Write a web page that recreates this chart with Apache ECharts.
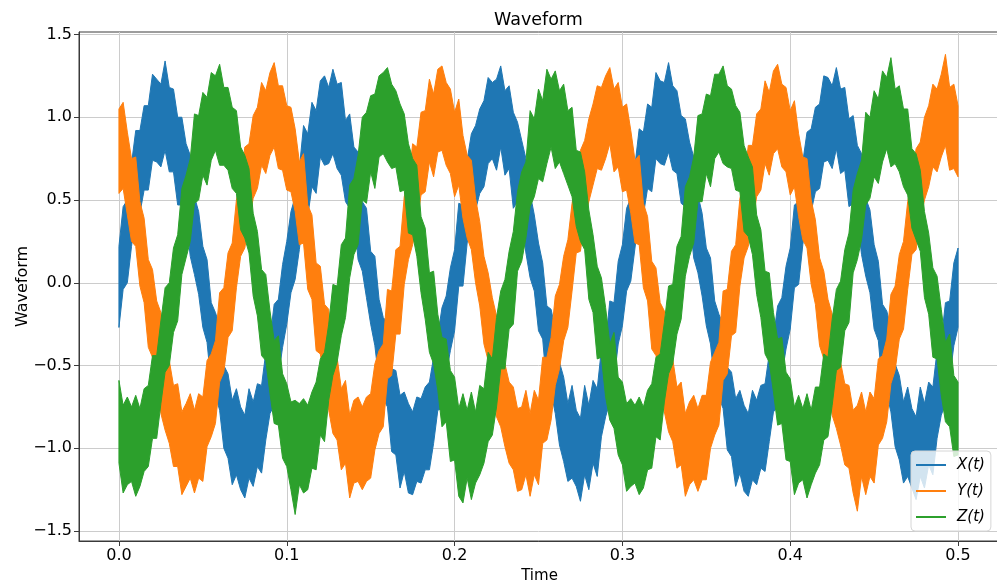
<!DOCTYPE html>
<html>
<head>
<meta charset="utf-8">
<script src="https://cdn.jsdelivr.net/npm/echarts@6/dist/echarts.min.js"></script>
<style>html,body{margin:0;padding:0;background:#fff;}#chart{width:997px;height:587px;}</style>
</head>
<body>
<div id="chart"></div>
<script>
// Sampling step of the time axis (seconds); samples start at t = 0.
// Each noisy waveform is described by the upper and lower edge of its noise band.
const timeStep = 0.0025;

const xTickValues = [0, 0.1, 0.2, 0.3, 0.4, 0.5];
const yTickValues = [-1.5, -1.0, -0.5, 0.0, 0.5, 1.0, 1.5];
const seriesNames = ['X(t)', 'Y(t)', 'Z(t)'];

const xUpper = [
  .22,.46,.50,.72,.92,.92,1.07,1.07,1.26,1.23,1.20,1.34,1.18,1.17,1.00,1.00,.84,.77,.52,.43,.22,.14,-.12,-.18,-.26,-.50,-.55,-.71,-.64,-.75,-.80,-.64,-.72,-.61,-.62,-.42,-.34,-.13,-.10,.11,
  .25,.43,.52,.69,.95,.90,1.09,1.04,1.22,1.25,1.18,1.29,1.20,1.21,.98,1.02,.82,.79,.49,.45,.19,.16,-.10,-.21,-.24,-.52,-.53,-.68,-.66,-.73,-.78,-.69,-.70,-.63,-.60,-.45,-.32,-.15,-.08,.09,
  .20,.48,.47,.74,.90,.95,1.05,1.10,1.24,1.21,1.23,1.31,1.16,1.19,1.03,.97,.86,.75,.54,.41,.24,.12,-.14,-.16,-.28,-.48,-.57,-.73,-.62,-.77,-.82,-.62,-.74,-.59,-.64,-.40,-.36,-.11,-.12,.13,
  .23,.45,.51,.71,.93,.91,1.08,1.06,1.27,1.22,1.21,1.33,1.19,1.16,1.01,.99,.85,.76,.53,.42,.21,.15,-.11,-.19,-.25,-.51,-.54,-.70,-.65,-.74,-.79,-.65,-.71,-.62,-.61,-.43,-.33,-.14,-.09,.10,
  .21,.47,.49,.73,.91,.93,1.06,1.08,1.25,1.24,1.19,1.30,1.17,1.18,.99,1.01,.83,.78,.51,.44,.23,.13,-.13,-.17,-.27,-.49,-.56,-.72,-.63,-.76,-.81,-.63,-.73,-.60,-.63,-.41,-.35,-.12,-.11,.12,
  .21
];
const xLower = [
  -.27,-.04,0,.22,.41,.42,.56,.56,.74,.73,.70,.80,.67,.67,.47,.47,.39,.16,.05,-.07,-.27,-.36,-.62,-.68,-.77,-1.00,-1.06,-1.22,-1.16,-1.25,-1.30,-1.18,-1.23,-1.11,-1.15,-.95,-.79,-.74,-.57,-.39,
  -.25,-.06,.02,.20,.43,.40,.58,.54,.76,.71,.72,.78,.69,.65,.49,.45,.41,.14,.07,-.09,-.25,-.38,-.60,-.70,-.75,-1.02,-1.04,-1.24,-1.14,-1.27,-1.28,-1.20,-1.21,-1.13,-1.13,-.97,-.77,-.76,-.55,-.41,
  -.29,-.02,-.02,.24,.39,.44,.54,.58,.72,.75,.68,.82,.65,.69,.45,.49,.37,.18,.03,-.05,-.29,-.34,-.64,-.66,-.79,-.98,-1.08,-1.20,-1.18,-1.23,-1.32,-1.16,-1.25,-1.09,-1.17,-.93,-.81,-.72,-.59,-.37,
  -.26,-.05,.01,.21,.42,.41,.57,.55,.75,.72,.71,.79,.68,.66,.48,.46,.40,.15,.06,-.08,-.26,-.37,-.61,-.69,-.76,-1.01,-1.05,-1.23,-1.15,-1.26,-1.29,-1.19,-1.22,-1.12,-1.14,-.96,-.78,-.75,-.56,-.40,
  -.28,-.03,-.01,.23,.40,.43,.55,.57,.73,.74,.69,.81,.66,.68,.46,.48,.38,.17,.04,-.06,-.28,-.35,-.63,-.67,-.78,-.99,-1.07,-1.21,-1.17,-1.24,-1.31,-1.17,-1.24,-1.10,-1.16,-.94,-.80,-.73,-.58,-.38,
  -.27
];

const yUpper = [
  1.05,1.09,.91,.75,.76,.49,.39,.14,.08,-.11,-.18,-.42,-.47,-.62,-.61,-.78,-.73,-.67,-.77,-.67,-.69,-.47,-.43,-.35,-.06,-.03,.18,.24,.50,.61,.82,.84,1.01,1.06,1.21,1.16,1.27,1.33,1.19,1.19,
  1.07,1.06,.93,.73,.78,.47,.41,.12,.10,-.13,-.16,-.44,-.45,-.64,-.59,-.80,-.71,-.69,-.75,-.69,-.67,-.49,-.41,-.37,-.04,-.05,.20,.22,.52,.59,.84,.82,1.03,1.04,1.23,1.14,1.29,1.31,1.21,1.17,
  1.03,1.11,.89,.77,.74,.51,.37,.16,.06,-.09,-.20,-.40,-.49,-.60,-.63,-.76,-.75,-.65,-.79,-.65,-.71,-.45,-.45,-.33,-.08,-.01,.16,.26,.48,.63,.80,.86,.99,1.08,1.19,1.18,1.25,1.30,1.17,1.21,
  1.06,1.08,.92,.74,.77,.48,.40,.13,.09,-.12,-.17,-.43,-.46,-.63,-.60,-.79,-.72,-.68,-.76,-.68,-.68,-.48,-.42,-.36,-.05,-.04,.19,.23,.51,.60,.83,.83,1.02,1.05,1.22,1.15,1.28,1.32,1.20,1.18,
  1.04,1.10,.90,.76,.75,.50,.38,.15,.07,-.10,-.19,-.41,-.48,-.61,-.62,-.77,-.74,-.66,-.78,-.66,-.70,-.46,-.44,-.34,-.07,-.02,.17,.25,.49,.62,.81,.85,1.00,1.07,1.20,1.17,1.26,1.38,1.18,1.20,
  1.07
];
const yLower = [
  .54,.57,.41,.25,.22,-.02,-.12,-.39,-.45,-.56,-.79,-.89,-.97,-1.11,-1.11,-1.28,-1.23,-1.18,-1.27,-1.18,-1.20,-.99,-.93,-.85,-.60,-.54,-.33,-.29,-.03,.16,.21,.37,.51,.57,.71,.66,.77,.82,.69,.68,
  .56,.55,.43,.23,.24,-.04,-.10,-.41,-.43,-.58,-.77,-.91,-.95,-1.13,-1.09,-1.30,-1.21,-1.20,-1.25,-1.20,-1.18,-1.01,-.91,-.87,-.58,-.56,-.31,-.31,-.01,.14,.23,.35,.53,.55,.73,.64,.79,.80,.71,.66,
  .52,.59,.39,.27,.20,0,-.14,-.37,-.47,-.54,-.81,-.87,-.99,-1.09,-1.13,-1.26,-1.25,-1.16,-1.29,-1.16,-1.22,-.97,-.95,-.83,-.62,-.52,-.35,-.27,-.05,.18,.19,.39,.49,.59,.69,.68,.75,.84,.67,.70,
  .55,.56,.42,.24,.23,-.03,-.11,-.40,-.44,-.57,-.78,-.90,-.96,-1.12,-1.10,-1.29,-1.22,-1.19,-1.26,-1.19,-1.19,-1.00,-.92,-.86,-.59,-.55,-.32,-.30,-.02,.15,.22,.36,.52,.56,.72,.65,.78,.81,.70,.67,
  .53,.58,.40,.26,.21,-.01,-.13,-.38,-.46,-.55,-.80,-.88,-.98,-1.10,-1.12,-1.27,-1.38,-1.17,-1.28,-1.17,-1.21,-.98,-.94,-.84,-.61,-.53,-.34,-.28,-.04,.17,.20,.38,.50,.58,.70,.67,.76,.83,.68,.69,
  .64
];

const zUpper = [
  -.59,-.74,-.69,-.75,-.68,-.76,-.64,-.62,-.44,-.44,-.23,-.03,0,.21,.29,.57,.65,.75,1.02,1.01,1.15,1.12,1.27,1.25,1.32,1.18,1.18,1.06,1.04,.82,.77,.69,.42,.31,.08,.05,-.17,-.35,-.32,-.55,
  -.61,-.72,-.71,-.73,-.70,-.74,-.66,-.60,-.46,-.42,-.25,-.01,-.02,.23,.27,.59,.63,.77,1.00,1.03,1.13,1.14,1.25,1.27,1.30,1.20,1.16,1.08,1.02,.84,.75,.71,.40,.33,.06,.07,-.19,-.33,-.34,-.53,
  -.57,-.76,-.67,-.77,-.66,-.78,-.62,-.64,-.42,-.46,-.21,-.05,.02,.19,.31,.55,.67,.73,1.04,.99,1.17,1.10,1.29,1.23,1.28,1.16,1.20,1.04,1.06,.80,.79,.67,.44,.29,.10,.03,-.15,-.37,-.30,-.57,
  -.60,-.73,-.70,-.74,-.69,-.75,-.65,-.61,-.45,-.43,-.24,-.02,-.01,.22,.28,.58,.64,.76,1.01,1.02,1.14,1.13,1.26,1.26,1.31,1.19,1.17,1.07,1.03,.83,.76,.70,.41,.32,.07,.06,-.18,-.34,-.33,-.54,
  -.58,-.75,-.68,-.76,-.67,-.77,-.63,-.63,-.43,-.45,-.22,-.04,.01,.20,.30,.56,.66,.74,1.03,1.00,1.16,1.11,1.28,1.24,1.36,1.17,1.19,1.05,1.05,.81,.78,.68,.43,.30,.09,.04,-.16,-.36,-.31,-.56,
  -.60
];
const zLower = [
  -1.09,-1.27,-1.22,-1.20,-1.29,-1.23,-1.14,-1.11,-.94,-.94,-.73,-.54,-.50,-.30,-.23,.05,.15,.25,.48,.50,.65,.59,.74,.80,.71,.71,.68,.57,.54,.32,.27,.18,-.08,-.20,-.44,-.47,-.67,-.85,-.86,-1.06,
  -1.11,-1.25,-1.40,-1.22,-1.27,-1.25,-1.12,-1.13,-.92,-.96,-.71,-.56,-.48,-.32,-.21,.03,.17,.23,.50,.48,.67,.57,.76,.78,.73,.69,.70,.55,.56,.30,.29,.16,-.06,-.22,-.42,-.49,-.65,-.87,-.84,-1.08,
  -1.07,-1.29,-1.33,-1.18,-1.31,-1.21,-1.16,-1.09,-.96,-.92,-.75,-.52,-.52,-.28,-.25,.07,.13,.27,.46,.52,.63,.61,.72,.82,.69,.73,.66,.59,.52,.34,.25,.20,-.10,-.18,-.46,-.45,-.69,-.83,-.88,-1.04,
  -1.10,-1.26,-1.23,-1.21,-1.28,-1.24,-1.13,-1.12,-.93,-.95,-.72,-.55,-.49,-.31,-.22,.04,.16,.24,.49,.49,.66,.58,.75,.79,.72,.70,.69,.56,.55,.31,.28,.17,-.07,-.21,-.43,-.48,-.66,-.86,-.85,-1.07,
  -1.08,-1.28,-1.21,-1.19,-1.30,-1.22,-1.15,-1.10,-.95,-.93,-.74,-.53,-.51,-.29,-.24,.06,.14,.26,.47,.51,.64,.60,.73,.81,.70,.72,.67,.58,.53,.33,.26,.19,-.09,-.19,-.45,-.46,-.68,-.84,-.87,-1.05,
  -1.04
];

const colors = ['#1f77b4', '#ff7f0e', '#2ca02c'];
const FONT = '"DejaVu Sans", "Liberation Sans", sans-serif';

function fmt(v) { return v.toFixed(1).replace('-', '\u2212'); }

// A noise band drawn through the axes' scales: upper edge forward, lower edge back.
function bandSeries(name, upper, lower, color) {
  return {
    name: name,
    type: 'custom',
    color: color,
    itemStyle: {color: color},
    silent: true,
    clip: true,
    data: [[0, 0]],
    encode: {x: 0, y: 1},
    renderItem: function (params, api) {
      const pts = [];
      for (let i = 0; i < upper.length; i++) pts.push(api.coord([i * timeStep, upper[i]]));
      for (let i = lower.length - 1; i >= 0; i--) pts.push(api.coord([i * timeStep, lower[i]]));
      return {
        type: 'polygon',
        shape: {points: pts},
        style: {fill: color, stroke: color, lineWidth: 1, lineJoin: 'miter'}
      };
    }
  };
}

const chart = echarts.init(document.getElementById('chart'), null, {renderer: 'canvas'});
const option = {
  animation: false,
  backgroundColor: '#ffffff',
  textStyle: {fontFamily: FONT},
  title: {
    text: 'Waveform',
    left: 494, top: 11, padding: 0,
    textStyle: {fontFamily: FONT, fontSize: 17.5, fontWeight: 'normal', color: '#000'}
  },
  grid: {
    left: 79, top: 32, right: -3, bottom: 46,
    show: true, borderColor: '#3a3a3a', borderWidth: 1, backgroundColor: 'transparent',
    containLabel: false,
    outerBoundsMode: 'none'
  },
  legend: {
    data: seriesNames.map(n => ({name: n, icon: 'rect'})),
    orient: 'vertical',
    left: 911, top: 451,
    padding: [5, 6, 5, 5],
    itemGap: 8,
    itemWidth: 30, itemHeight: 2,
    itemStyle: {borderWidth: 0},
    textStyle: {fontFamily: FONT, fontSize: 15, fontStyle: 'italic', color: '#000', lineHeight: 18, padding: [0, 0, 0, 6]},
    backgroundColor: 'rgba(255,255,255,0.8)',
    borderColor: '#d6d6d6', borderWidth: 1, borderRadius: 4
  },
  xAxis: {
    type: 'value',
    min: -0.0238, max: 0.525,
    name: 'Time', nameLocation: 'middle', nameGap: 28, nameMoveOverlap: false,
    nameTextStyle: {fontFamily: FONT, fontSize: 15, color: '#000'},
    axisLine: {show: true, onZero: false, lineStyle: {color: '#3a3a3a', width: 1}},
    axisTick: {show: true, length: 5, lineStyle: {color: '#3a3a3a'}, customValues: xTickValues},
    axisLabel: {customValues: xTickValues, formatter: fmt, fontFamily: FONT, fontSize: 16, color: '#000', margin: 7},
    splitLine: {show: true, lineStyle: {color: '#cccccc', width: 1}}
  },
  yAxis: {
    type: 'value',
    min: -1.56, max: 1.515,
    name: 'Waveform', nameLocation: 'middle', nameGap: 48, nameRotate: 90, nameMoveOverlap: false,
    nameTextStyle: {fontFamily: FONT, fontSize: 16, color: '#000'},
    axisLine: {show: true, onZero: false, lineStyle: {color: '#3a3a3a', width: 1}},
    axisTick: {show: true, length: 5, lineStyle: {color: '#3a3a3a'}, customValues: yTickValues},
    axisLabel: {customValues: yTickValues, formatter: fmt, fontFamily: FONT, fontSize: 16, color: '#000', margin: 7},
    splitLine: {show: true, lineStyle: {color: '#cccccc', width: 1}}
  },
  series: [
    bandSeries(seriesNames[0], xUpper, xLower, colors[0]),
    bandSeries(seriesNames[1], yUpper, yLower, colors[1]),
    bandSeries(seriesNames[2], zUpper, zLower, colors[2])
  ]
};
chart.setOption(option);
</script>
</body>
</html>
